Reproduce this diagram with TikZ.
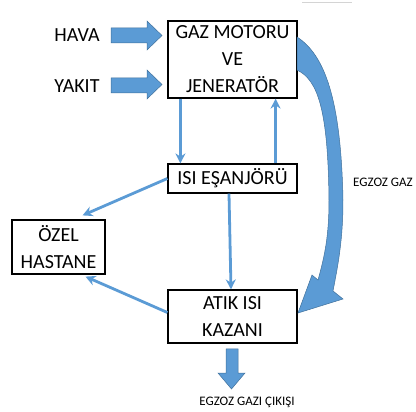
\documentclass[tikz,border=0pt]{standalone}
\usepackage{fontspec}
\setmainfont{Carlito}
\usetikzlibrary{calc,arrows.meta,positioning}
\definecolor{flowblue}{HTML}{5B9BD5}
\definecolor{flowedge}{HTML}{41719C}
\definecolor{ruleGrey}{HTML}{D4D4D4}

\begin{document}
\begin{tikzpicture}[x=1pt,y=-1pt,
  every node/.style={font=\fontsize{20}{27}\selectfont,align=center,inner sep=0pt},
  unit/.style={draw,line width=1.2pt,fill=white},
  flow/.style={draw=flowblue,line width=2.8pt,-{Stealth[length=10pt,width=10pt]}},
  bigflow/.style={fill=flowblue,draw=flowedge,line width=0.5pt},
  note/.style={font=\fontsize{13}{15}\selectfont}]
\useasboundingbox (0,0) rectangle (416,412);
\draw[ruleGrey,line width=1pt] (302,3)--(352,3);
% units
\node[unit,minimum width=129,minimum height=77] (gm) at (232.5,59.5)
{GAZ MOTORU\\VE\\JENERATÖR};
\node[unit,minimum width=129,minimum height=29] (es) at (232.5,178.5) {ISI EŞANJÖRÜ};
\node[unit,minimum width=93,minimum height=54] (hs) at (58.5,247) {ÖZEL\\HASTANE};
\node[unit,minimum width=129,minimum height=53] (kz) at (232.5,316.5) {ATIK ISI\\KAZANI};
% inputs
\node (hava) at (77,35.5) {HAVA};
\node (yakit) at (77,86) {YAKIT};
\draw[bigflow] (111,28)--(147,28)--(147,21)--(162,35.5)--(147,50)--(147,43)--(111,43)--cycle;
\draw[bigflow] (111,78)--(147,78)--(147,70)--(162,84.5)--(147,99)--(147,93)--(111,93)--cycle;
% connectors
\draw[flow] ([xshift=13]gm.south west)--([xshift=13]es.north west);
\draw[flow] ([xshift=-22]es.north east)--([xshift=-22]gm.south east);
\draw[flow] (es.west)--($(hs.north)+(24,-4)$);
\draw[flow] ([xshift=-3.5]es.south)--([xshift=-1.5]kz.north);
\draw[flow] ($(kz.west)+(0,-4)$)--($(hs.south)+(27,2)$);
% exhaust
\draw[bigflow] (297,37) .. controls (325,55) and (341,100) .. (343,200)
  .. controls (343,240) and (338,265) .. (333,291) -- (343,299) -- (298,313) -- (312,275) -- (318,280)
  .. controls (325,255) and (329,235) .. (329,200)
  .. controls (328,110) and (318,80) .. (297,70) -- cycle;
\node[note,anchor=west] (egzoz) at (353,182) {EGZOZ GAZ};
\draw[bigflow] (226,349)--(238,349)--(238,373)--(245,373)--(231.5,389)--(218,373)--(226,373)--cycle;
\node[note] (cikis) at (247,402) {EGZOZ GAZI ÇIKIŞI};
\end{tikzpicture}
\end{document}
